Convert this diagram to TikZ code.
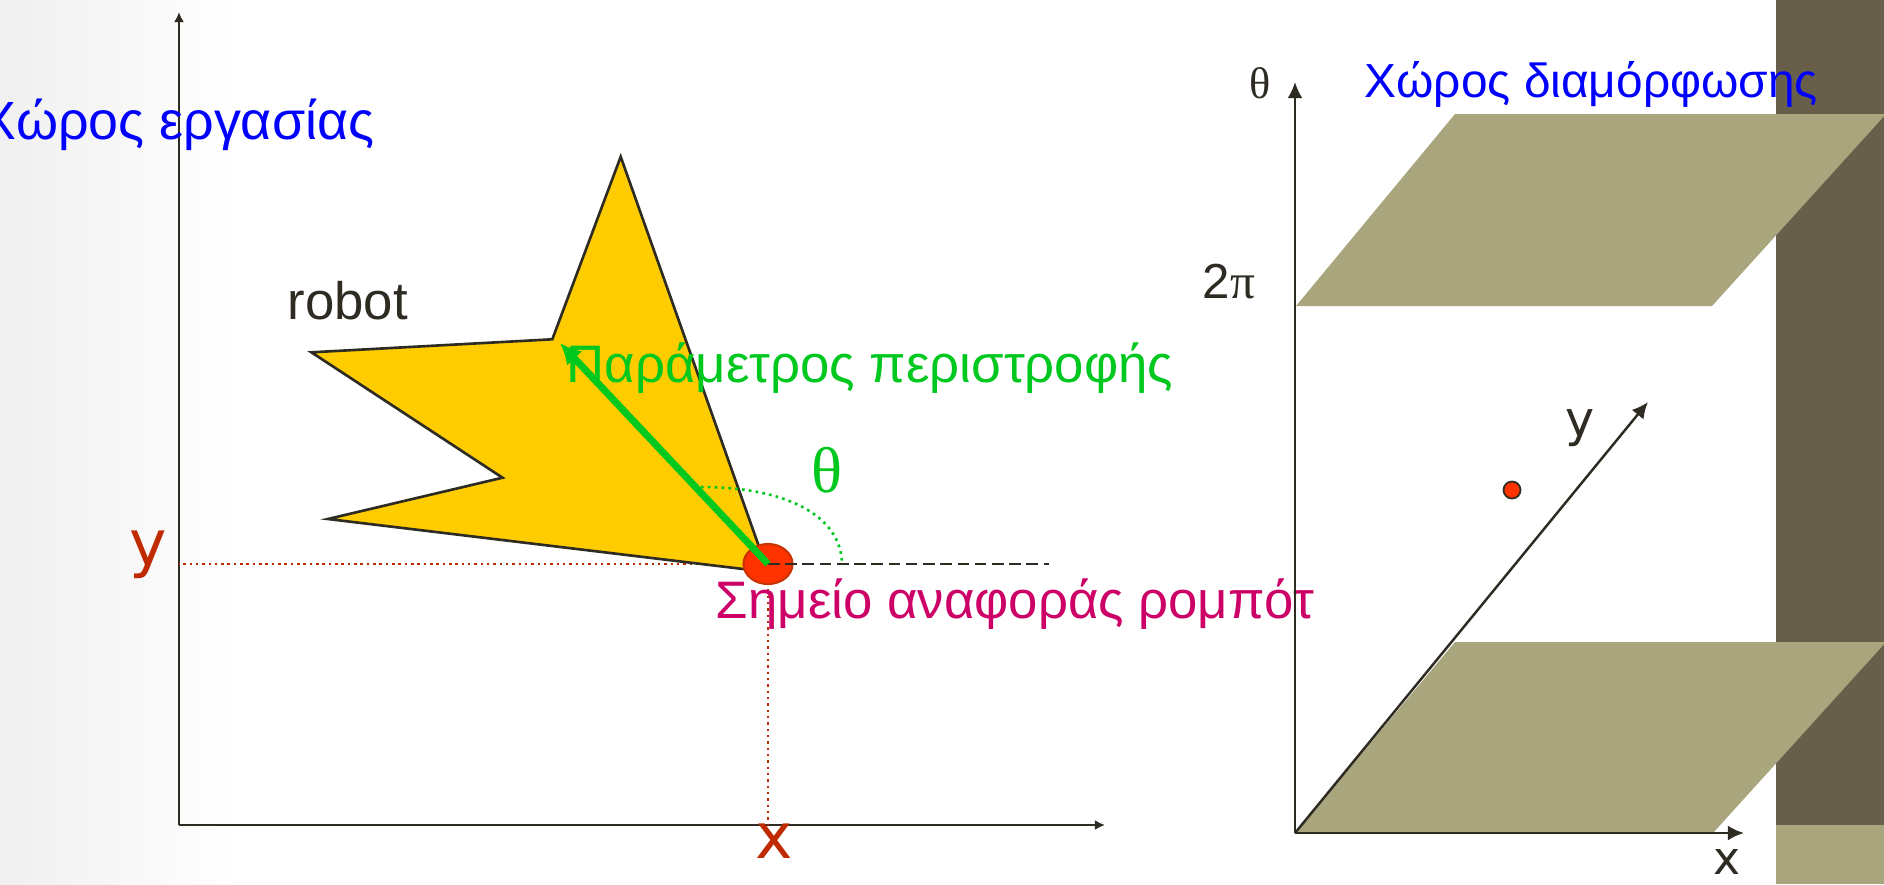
\documentclass[tikz,border=0pt]{standalone}
\usepackage{fontspec}
\setmainfont{Liberation Sans}
\newfontfamily\symfont{Liberation Serif}
\newfontfamily\letfont{DejaVu Sans}
\usetikzlibrary{arrows.meta,shapes.geometric}
\definecolor{ttlblue}{HTML}{0000FF}
\definecolor{rotgreen}{HTML}{00C81E}
\definecolor{refmag}{HTML}{CC0066}
\definecolor{axred}{HTML}{BF2A00}
\definecolor{ink}{HTML}{2E2B22}
\definecolor{robyel}{HTML}{FFCC00}
\definecolor{refred}{HTML}{FF3300}
\definecolor{refrim}{HTML}{C83200}
\definecolor{khaki}{HTML}{A9A57C}
\definecolor{barbrown}{HTML}{675F49}
\tikzset{
  wsaxis/.style={-{Latex[length=2.9pt,width=2.9pt]},line width=0.8pt,draw=ink},
  csaxis/.style={-{Latex[length=4.6pt,width=4.3pt]},line width=0.7pt,draw=ink},
  ttl/.style={inner sep=0pt,text=ttlblue,font=\fontsize{15.3}{18}\selectfont},
  lbl/.style={inner sep=0pt,font=\fontsize{15}{18}\selectfont},
  axlbl/.style={inner sep=0pt,font=\letfont\fontsize{18}{20}\selectfont},
  guide/.style={draw=axred,line width=0.7pt,dash pattern=on 0.7pt off 1.1pt},
  plane/.style={fill=khaki,draw=none},
  refpt/.style={ellipse,fill=refred,draw=refrim,line width=0.6pt,
    minimum width=0.49cm,minimum height=0.4cm,inner sep=0pt},
  cfgpt/.style={circle,fill=refred,draw=ink,line width=0.5pt,
    minimum size=0.17cm,inner sep=0pt}
}
\begin{document}
\begin{tikzpicture}[x=0.01cm,y=-0.01cm]
  \useasboundingbox (0,0) rectangle (1884,884);
  \shade[left color=black!6,right color=white] (0,0) rectangle (240,884);
  % workspace
  \coordinate (wo) at (179,825);
  \coordinate (wy) at (179,12);
  \coordinate (wx) at (1105,825);
  \coordinate (p) at (768,564);
  \draw[wsaxis] (wo) -- (wy);
  \draw[wsaxis] (wo) -- (wx);
  \draw[guide] (p) -- (p -| wo);
  \draw[guide] (p) -- (p |- wo);
  \draw[ink,line width=0.75pt,fill=robyel,line join=miter]
    (620.7,156.7) -- (552.3,339.3) -- (311.4,352.3) -- (502.5,477.7)
    -- (327.9,519) -- (768,572) -- cycle;
  \node[refpt] (ref) at (p) {};
  \coordinate (dend) at (1049,564);
  \draw[ink,line width=0.6pt,dash pattern=on 3.3pt off 1.6pt] (ref.center) -- (dend);
  \coordinate (a1) at (701,487);
  \coordinate (a2) at (842,565);
  \draw[rotgreen,line width=0.75pt,dash pattern=on 0.75pt off 1.2pt]
    (a1) .. controls (785,487) and (842,515) .. (a2);
  \coordinate (tip) at (560,343);
  \draw[rotgreen,line width=2pt,-{Latex[length=6pt,width=6pt]}] (ref.center) -- (tip);
  \node[ttl,anchor=base east] (wsname) at (375,139) {Χώρος εργασίας};
  \node[lbl,text=ink,anchor=base west] (robname) at (287,319) {robot};
  \node[lbl,text=rotgreen,anchor=base west] (rotname) at (566,382) {Παράμετρος περιστροφής};
  \node[lbl,text=refmag,anchor=base west] (refname) at (715,618) {Σημείο αναφοράς ρομπότ};
  \node[inner sep=0pt,text=rotgreen,font=\symfont\fontsize{18.4}{20}\selectfont] (th) at (827,470) {θ};
  \node[axlbl,text=axred] (wylbl) at (148,555) {y};
  \node[axlbl,text=axred] (wxlbl) at (774,841) {x};
  % configuration space
  \fill[barbrown] (1776,0) rectangle (1884,825);
  \fill[khaki] (1776,825) rectangle (1884,884);
  \path[plane] (1296,306) -- (1455,114) -- (1886,114) -- (1712,306) -- cycle;
  \path[plane] (1295,833) -- (1455,642) -- (1886,642) -- (1713,833) -- cycle;
  \coordinate (co) at (1295,833);
  \coordinate (ct) at (1295,82);
  \coordinate (cx) at (1744,833);
  \coordinate (cy) at (1648,402);
  \draw[csaxis] (co) -- (ct);
  \draw[csaxis] (co) -- (cx);
  \draw[csaxis] (co) -- (cy);
  \node[cfgpt] (cfg) at (1512,490) {};
  \node[ttl,font=\fontsize{13.6}{16}\selectfont,anchor=base west] (csname) at (1364,97) {Χώρος διαμόρφωσης};
  \node[inner sep=0pt,text=ink,font=\symfont\fontsize{12.6}{14}\selectfont] (cthlbl) at (1260,83) {θ};
  \node[inner sep=0pt,text=ink,font=\fontsize{14}{16}\selectfont,anchor=base] (twopi) at (1229,298) {2{\symfont π}};
  \node[axlbl,text=ink,font=\letfont\fontsize{14}{16}\selectfont] (cylbl) at (1580,428) {y};
  \node[axlbl,text=ink,font=\letfont\fontsize{13}{15}\selectfont] (cxlbl) at (1727,862) {x};
\end{tikzpicture}
\end{document}
